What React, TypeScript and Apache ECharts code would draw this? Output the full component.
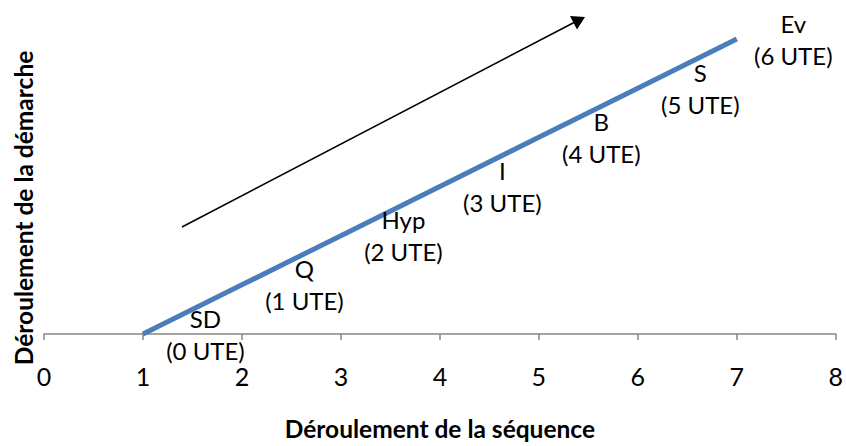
import React, { useEffect, useRef } from "react";
import * as echarts from "echarts";

const xValues = [1, 2, 3, 4, 5, 6, 7];
const yValues = [0, 1, 2, 3, 4, 5, 6];
const stepNames = ["SD", "Q", "Hyp", "I", "B", "S", "Ev"];
const uteValues = [0, 1, 2, 3, 4, 5, 6];
const xTitle = "Déroulement de la séquence";
const yTitle = "Déroulement de la démarche";

const FONT = "Lato, 'Noto Sans', sans-serif";

export default function App() {
  const ref = useRef<HTMLDivElement>(null);
  useEffect(() => {
    document.body.style.margin = "0";
    if (!ref.current) return;
    const chart = echarts.init(ref.current, undefined, { renderer: "svg" });
    const data = xValues.map((x, i) => ({
      value: [x, yValues[i]],
      label: {
        formatter: `${stepNames[i]}\n(${uteValues[i]} UTE)`,
        distance: i === xValues.length - 1 ? 56 : 62,
      },
    }));
    chart.setOption({
      animation: false,
      backgroundColor: "#ffffff",
      grid: { left: 44, right: 6, top: 39, bottom: 106, containLabel: false },
      xAxis: {
        type: "value",
        min: 0,
        max: 8,
        interval: 1,
        splitLine: { show: false },
        axisLine: { show: true, lineStyle: { color: "#868686", width: 1.5 } },
        axisTick: { show: true, inside: false, length: 6, lineStyle: { color: "#868686", width: 1.5 } },
        axisLabel: { color: "#000", fontSize: 25, lineHeight: 18, fontFamily: FONT, margin: 33 },
        name: xTitle,
        nameLocation: "middle",
        nameGap: 82,
        nameTextStyle: { color: "#000", fontSize: 24.5, fontWeight: "bold", fontFamily: FONT, verticalAlign: "top" },
      },
      yAxis: {
        type: "value",
        min: 0,
        max: 6,
        show: false,
      },
      series: [
        {
          type: "line",
          data,
          symbol: "circle",
          symbolSize: 1,
          showSymbol: true,
          itemStyle: { color: "rgba(0,0,0,0)" },
          lineStyle: { color: "#4A7EBB", width: 5, cap: "butt" },
          label: {
            show: true,
            position: "right",
            align: "center",
            verticalAlign: "middle",
            color: "#000",
            fontSize: 24,
            fontFamily: FONT,
            lineHeight: 32,
          },
          labelLayout: { hideOverlap: false },
          clip: false,
        },
      ],
      graphic: [
        {
          type: "text",
          x: 23,
          y: 208,
          rotation: Math.PI / 2,
          style: {
            text: yTitle,
            fontSize: 24.5,
            fontWeight: "bold",
            fontFamily: FONT,
            fill: "#000",
            align: "center",
            verticalAlign: "middle",
          },
        },
        {
          type: "line",
          shape: { x1: 182, y1: 227, x2: 574, y2: 22.5 },
          style: { stroke: "#000", lineWidth: 1.5 },
        },
        {
          type: "polygon",
          shape: { points: [[585, 17], [570, 16], [577, 29.5]] },
          style: { fill: "#000" },
        },
      ],
    });
    return () => chart.dispose();
  }, []);
  return <div ref={ref} style={{ width: 846, height: 446 }} />;
}
